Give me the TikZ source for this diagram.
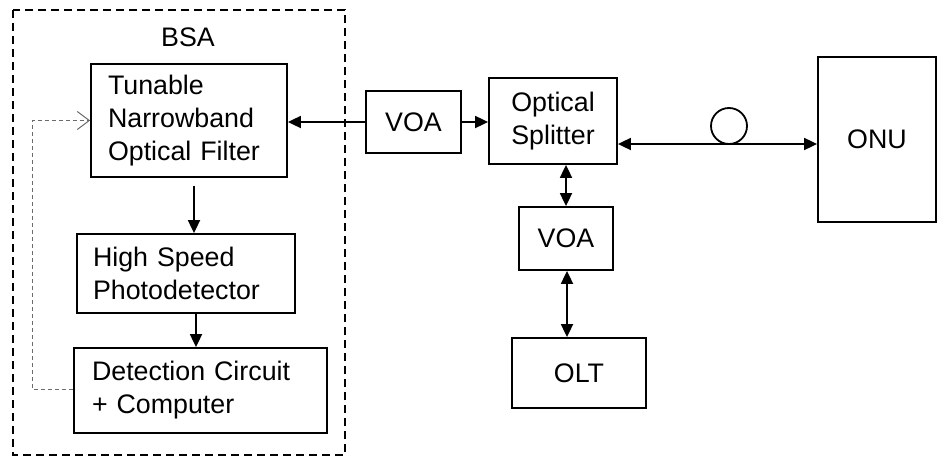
\documentclass[tikz,border=0pt]{standalone}
\usepackage{fontspec}
\setmainfont{Liberation Sans}
\usepackage{tikz}
\usetikzlibrary{
  arrows.meta,
  positioning,
  calc
}
\definecolor{bsFeed}{HTML}{6B6B6B}

\begin{document}
\begin{tikzpicture}[x=1pt, y=-1pt, font=\fontsize{26.8}{33}\selectfont,
    blk/.style={draw, line width=1.8pt, inner sep=0pt, align=center},
    lblk/.style={blk, align=left, inner ysep=0pt},
    arr/.style={line width=1.8pt, -{Triangle[length=13pt, width=12pt]}},
    biarr/.style={line width=1.8pt, {Triangle[length=13pt, width=12pt]}-{Triangle[length=13pt, width=12pt]}},
    feed/.style={draw=bsFeed, line width=1pt, dash pattern=on 4pt off 3pt, -{Straight Barb[length=12pt, width=18pt]}}]
  \useasboundingbox (0,0) rectangle (938,458);

  % BSA enclosure
  \draw[line width=1.8pt, dash pattern=on 8pt off 5pt] (13,10) rectangle (345,455);
  \node (bsa) at (188,37) {BSA};

  % blocks inside the BSA
  \node[lblk, minimum width=196pt, minimum height=113pt, inner xsep=17pt, text width=162pt] (tnof) at (189,120.5) {Tunable\\Narrowband\\Optical Filter};
  \node[lblk, minimum width=218pt, minimum height=79pt, inner xsep=16pt, text width=186pt] (hspd) at (186,273.5) {High Speed\\Photodetector};
  \node[lblk, minimum width=253pt, minimum height=85pt, inner xsep=18pt, text width=217pt] (detc) at (200.5,390.5) {Detection Circuit\\+ Computer};

  % network side
  \node[blk, minimum width=95pt, minimum height=62pt] (voaA) at (413.5,122) {VOA};
  \node[blk, minimum width=128pt, minimum height=86pt] (splt) at (553,121) {Optical\\Splitter};
  \node[blk, minimum width=94pt, minimum height=63pt] (voaB) at (566,238.5) {VOA};
  \node[blk, minimum width=134pt, minimum height=70pt] (olt) at (579,373) {OLT};
  \node[blk, minimum width=118pt, minimum height=165pt] (onu) at (877,139.5) {ONU};
  \node[draw, circle, line width=1.8pt, minimum size=36pt, inner sep=0pt] (coil) at (729,126) {};

  % connections
  \draw[arr] (voaA.west) -- (voaA.west -| tnof.east);
  \draw[arr] (voaA.east) -- (voaA.east -| splt.west);
  \coordinate (sptap) at ([yshift=-23pt]splt.east);
  \draw[biarr] (sptap) -- (sptap -| onu.west);
  \draw[biarr] (voaB.north |- splt.south) -- (voaB.north);
  \draw[biarr] ([xshift=1pt]voaB.south) -- ([xshift=1pt]voaB.south |- olt.north);
  \draw[arr, shorten <=8pt] ([xshift=5pt]tnof.south) -- ([xshift=5pt]tnof.south |- hspd.north);
  \draw[arr] ([xshift=10pt]hspd.south) -- ([xshift=10pt]hspd.south |- detc.north);
  \draw[feed] ([yshift=1.5pt]detc.west) -- ++(-41,0) |- (tnof.west);
\end{tikzpicture}
\end{document}
